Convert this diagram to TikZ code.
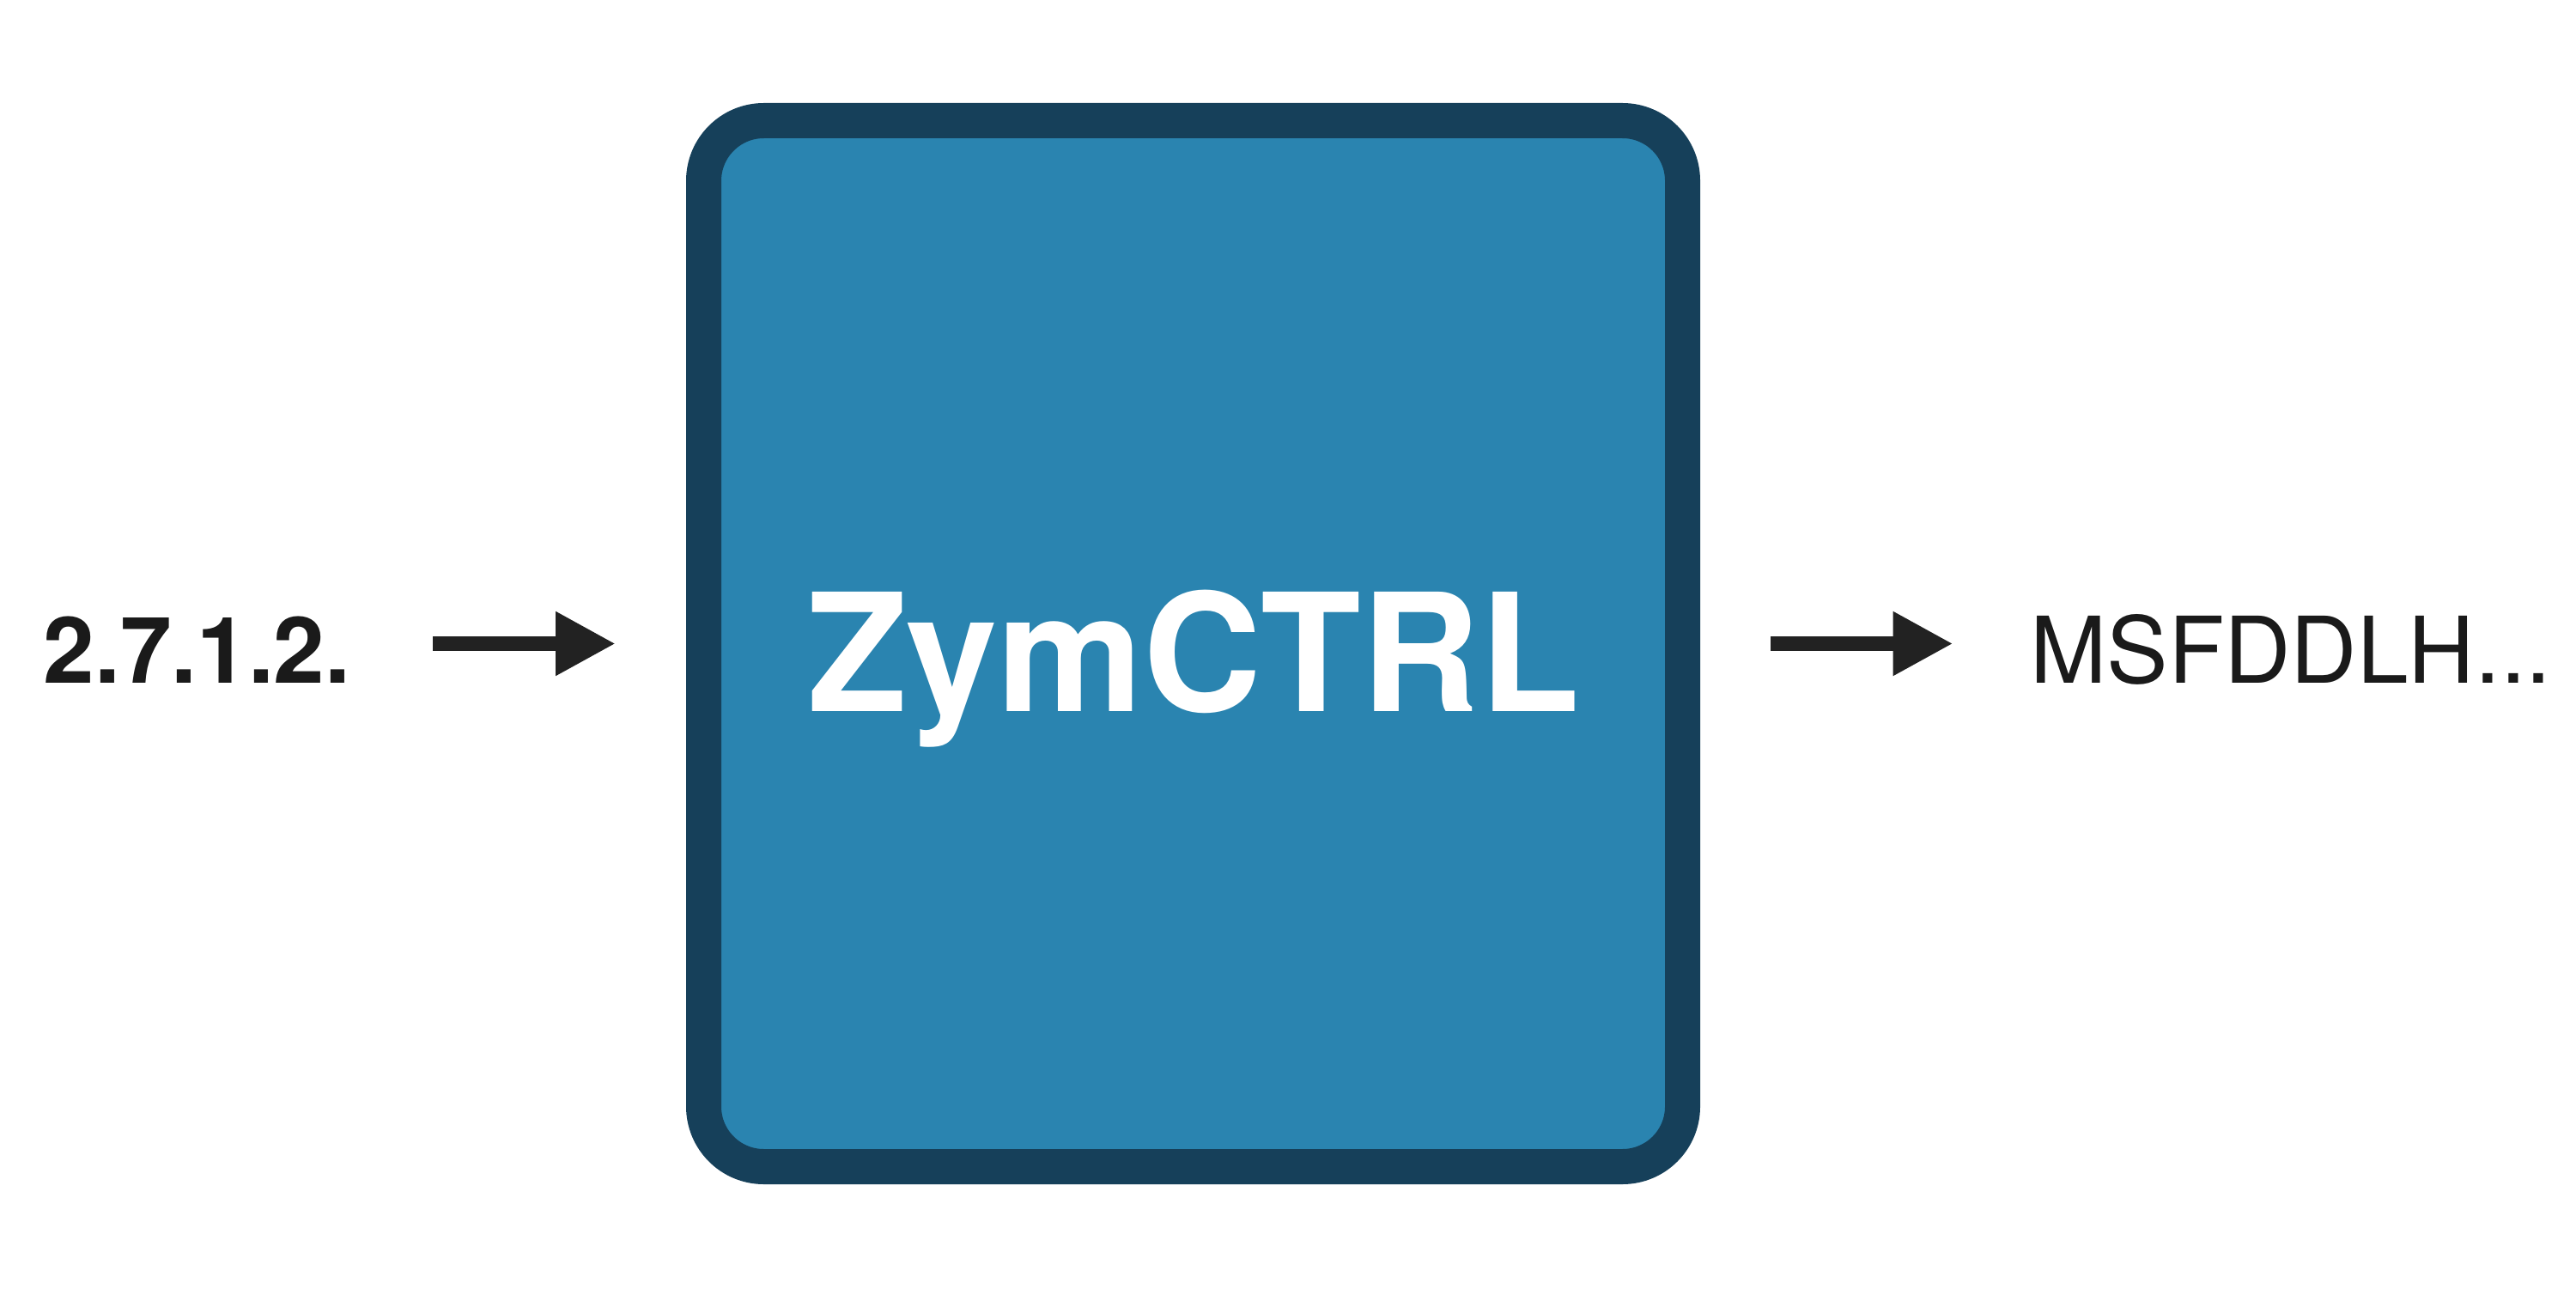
\documentclass[tikz,border=0pt]{standalone}
\usepackage{fontspec}
\setmainfont{TeX Gyre Heros}
\usepackage{tikz}
\usetikzlibrary{positioning,calc,arrows.meta}
\definecolor{zymblue}{RGB}{42,132,176}
\definecolor{zymdark}{RGB}{22,64,90}
\definecolor{arrowgray}{RGB}{34,34,34}
\definecolor{textgray}{RGB}{26,26,26}

\begin{document}
\begin{tikzpicture}[
    core/.style={draw=zymdark, fill=zymblue, line width=0.41cm, rounded corners=0.7cm,
      minimum width=11.4cm, minimum height=12.18cm, inner sep=0pt},
    label/.style={inner sep=0pt, text=textgray, font=\fontsize{30.5}{36}\selectfont},
    flow/.style={draw=arrowgray, line width=0.175cm, -{Triangle[length=0.7cm, width=0.7cm]}}
  ]
      \useasboundingbox (0,0) rectangle (30,15);
      \node[core] (zym) at (13.895,7.505) {};
      \node[anchor=base, inner sep=0pt, text=white, font=\fontsize{54.3}{60}\selectfont\bfseries] (name) at (13.9,6.72) {ZymCTRL};

      \node[label, anchor=base, font=\fontsize{30.5}{36}\selectfont\bfseries] (ec) at (2.295,7.05) {2.7.1.2.};
      \node[label, anchor=base] (seq) at (26.68,7.05) {MSFDDLH...};

      \path[flow, shorten <=0.95cm, shorten >=0.82cm] (ec.east |- zym.west) -- (zym.west);
      \path[flow, shorten <=0.82cm, shorten >=0.89cm] (zym.east) -- (zym.east -| seq.west);
    \end{tikzpicture}
\end{document}
